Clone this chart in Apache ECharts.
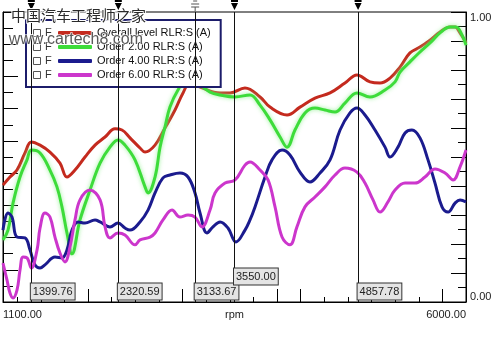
<!DOCTYPE html>
<html>
<head>
<meta charset="utf-8">
<script src="https://cdn.jsdelivr.net/npm/echarts@6/dist/echarts.min.js"></script>
<style>
html, body { margin: 0; padding: 0; background: #fff; }
#orderchart { width: 500px; height: 337px; }
</style>
</head>
<body>
<div id="orderchart"></div>
<script>
// rpm / amplitude pairs
var overallLevel = [
    [1100, 0.403], [1174, 0.431], [1248, 0.455], [1333, 0.514], [1400, 0.552], [1492, 0.541],
    [1597, 0.517], [1703, 0.479], [1777, 0.431], [1862, 0.455], [1968, 0.500], [2074, 0.541],
    [2180, 0.569], [2285, 0.597], [2359, 0.593], [2444, 0.566], [2550, 0.531], [2603, 0.517],
    [2709, 0.541], [2814, 0.600], [2920, 0.662], [3005, 0.721], [3079, 0.755], [3185, 0.741],
    [3397, 0.721], [3503, 0.721], [3661, 0.738], [3820, 0.707], [3926, 0.672], [4106, 0.645],
    [4243, 0.672], [4402, 0.703], [4561, 0.721], [4719, 0.755], [4846, 0.783], [4984, 0.759],
    [5090, 0.755], [5196, 0.772], [5302, 0.810], [5407, 0.859], [5513, 0.879], [5619, 0.903],
    [5725, 0.931], [5831, 0.948], [5884, 0.948], [5937, 0.928], [6000, 0.893]
];
var order2 = [
    [1100, 0.214], [1153, 0.248], [1206, 0.341], [1280, 0.431], [1354, 0.490], [1400, 0.524],
    [1492, 0.514], [1597, 0.455], [1671, 0.397], [1724, 0.328], [1777, 0.238], [1830, 0.166],
    [1915, 0.283], [2021, 0.386], [2127, 0.479], [2232, 0.534], [2317, 0.559], [2391, 0.541],
    [2497, 0.490], [2603, 0.397], [2635, 0.376], [2709, 0.431], [2762, 0.534], [2814, 0.603],
    [2867, 0.672], [2952, 0.731], [3058, 0.772], [3185, 0.748], [3291, 0.724], [3397, 0.714],
    [3556, 0.707], [3714, 0.714], [3820, 0.679], [3926, 0.628], [4032, 0.569], [4106, 0.534],
    [4190, 0.593], [4296, 0.652], [4402, 0.669], [4508, 0.662], [4614, 0.655], [4719, 0.686],
    [4846, 0.721], [4984, 0.707], [5143, 0.731], [5249, 0.759], [5302, 0.793], [5407, 0.828],
    [5513, 0.862], [5619, 0.893], [5725, 0.928], [5831, 0.948], [5894, 0.948], [5958, 0.921],
    [6000, 0.886]
];
var order4 = [
    [1100, 0.248], [1153, 0.307], [1195, 0.293], [1248, 0.224], [1333, 0.221], [1386, 0.179],
    [1439, 0.128], [1492, 0.117], [1544, 0.128], [1650, 0.155], [1724, 0.152], [1777, 0.179],
    [1830, 0.248], [1894, 0.276], [1968, 0.272], [2074, 0.283], [2127, 0.276], [2232, 0.259],
    [2317, 0.272], [2391, 0.255], [2444, 0.248], [2550, 0.276], [2635, 0.317], [2709, 0.376],
    [2793, 0.428], [2867, 0.438], [2973, 0.445], [3058, 0.431], [3132, 0.376], [3185, 0.307],
    [3259, 0.238], [3322, 0.259], [3397, 0.276], [3481, 0.255], [3566, 0.207], [3661, 0.248],
    [3714, 0.283], [3767, 0.328], [3873, 0.431], [3947, 0.490], [4053, 0.524], [4137, 0.507],
    [4243, 0.448], [4349, 0.414], [4455, 0.445], [4561, 0.490], [4667, 0.593], [4772, 0.652],
    [4846, 0.669], [4931, 0.645], [5037, 0.593], [5143, 0.534], [5196, 0.500], [5280, 0.534],
    [5355, 0.583], [5428, 0.593], [5513, 0.566], [5598, 0.490], [5672, 0.410], [5746, 0.328],
    [5810, 0.310], [5884, 0.341], [5937, 0.352], [6000, 0.345]
];
var order6 = [
    [1100, 0.134], [1142, 0.076], [1174, 0.031], [1206, 0.014], [1248, 0.041], [1280, 0.110],
    [1312, 0.155], [1354, 0.152], [1400, 0.117], [1460, 0.179], [1492, 0.255], [1544, 0.307],
    [1597, 0.293], [1650, 0.224], [1703, 0.169], [1756, 0.138], [1809, 0.190], [1862, 0.283],
    [1915, 0.352], [2021, 0.386], [2127, 0.352], [2180, 0.259], [2232, 0.221], [2317, 0.238],
    [2391, 0.231], [2497, 0.197], [2550, 0.214], [2656, 0.224], [2709, 0.238], [2793, 0.283],
    [2889, 0.317], [2973, 0.293], [3058, 0.300], [3132, 0.293], [3206, 0.259], [3291, 0.317],
    [3344, 0.376], [3450, 0.410], [3556, 0.421], [3661, 0.472], [3714, 0.483], [3820, 0.455],
    [3905, 0.421], [3979, 0.328], [4053, 0.224], [4137, 0.197], [4211, 0.259], [4296, 0.328],
    [4402, 0.362], [4508, 0.397], [4614, 0.438], [4719, 0.462], [4846, 0.448], [4931, 0.410],
    [5016, 0.352], [5090, 0.310], [5174, 0.345], [5249, 0.386], [5355, 0.410], [5460, 0.410],
    [5566, 0.431], [5672, 0.459], [5778, 0.445], [5863, 0.421], [5937, 0.466], [6000, 0.524]
];
var seriesNames = ['Overall level RLR:S (A)', 'Order 2.00 RLR:S (A)', 'Order 4.00 RLR:S (A)', 'Order 6.00 RLR:S (A)'];
var seriesColors = ['#c42a1e', '#3ddc3a', '#1b1b8e', '#cc36cc'];
var cursorRpm = [1399.76, 2320.59, 3133.67, 3550.00, 4857.78];
var xLongTicks = [2000, 3000, 4000, 4250, 5750];
var xShortTicks = [1250, 1500, 1750, 2250, 2500, 2750, 3250, 3500, 3750, 4500, 4750, 5000, 5250, 5500];

var FONT = 'Liberation Sans';
var pinPath = 'path://M0,0L7,0L7,2L0,2Z M0,3L7,3L3.5,10Z';
var barPath = 'path://M2,0L6,0L6,1L2,1Z M0,3L8,3L8,4L0,4Z M0,6L8,6L8,7L0,7Z M3.5,7L4.5,7L4.5,11L3.5,11Z';

var myChart = echarts.init(document.getElementById('orderchart'), null, {renderer: 'canvas'});

var cursorLabels = cursorRpm.map(function (v, i) {
    return {
        coord: [v, 0],
        value: v.toFixed(2),
        symbol: 'rect',
        symbolSize: 1,
        itemStyle: {color: 'rgba(0,0,0,0)'},
        label: {position: [0, i === 3 ? -33 : -18]}
    };
});
var cursorPins = cursorRpm.map(function (v, i) {
    return {
        coord: [v, 1],
        value: '',
        symbol: i === 2 ? barPath : pinPath,
        symbolSize: i === 2 ? [8, 11] : [7, 10],
        symbolOffset: [0, i === 2 ? -6 : -7],
        itemStyle: {color: i === 2 ? '#555' : '#000'},
        label: {show: false}
    };
});

var series = [overallLevel, order2, order4, order6].map(function (d, i) {
    return {
        name: seriesNames[i],
        type: 'line',
        data: d,
        smooth: 0.4,
        showSymbol: false,
        clip: true,
        xAxisIndex: 0,
        yAxisIndex: 0,
        itemStyle: {color: seriesColors[i]},
        lineStyle: {
            color: seriesColors[i],
            width: 3,
            shadowColor: i === 1 ? 'rgba(140,240,140,0.9)' : 'rgba(0,0,0,0)',
            shadowBlur: i === 1 ? 4 : 0
        },
        silent: true
    };
});
// cursors ride on the first series
series[0].markLine = {
    silent: true,
    symbol: ['none', 'none'],
    label: {show: false},
    lineStyle: {color: '#111', width: 1, type: 'solid'},
    data: cursorRpm.map(function (v) { return {xAxis: v}; })
};
series[0].markPoint = {
    silent: true,
    label: {
        show: true,
        formatter: '{c}',
        fontFamily: FONT,
        fontSize: 11,
        color: '#222',
        backgroundColor: '#e4e4e4',
        borderColor: '#333',
        borderWidth: 1,
        padding: [3, 2, 2, 2]
    },
    data: cursorLabels.concat(cursorPins)
};

var rows = [33, 47, 61, 75];
var graphics = [];
rows.forEach(function (y) {
    graphics.push({
        type: 'rect', z: 100, left: 33, top: y - 4,
        shape: {width: 7, height: 7},
        style: {fill: '#fff', stroke: '#555', lineWidth: 1}
    });
    graphics.push({
        type: 'text', z: 100, left: 45, top: y - 6,
        style: {text: 'F', font: '11px ' + FONT, fill: '#333'}
    });
});
// site watermark
graphics.push({
    type: 'text', z: 120, left: 10, top: 7,
    style: {text: '中国汽车工程师之家', font: '15px "Noto Sans CJK SC"', fill: '#2a2a2a', stroke: '#fff', lineWidth: 2}
});
graphics.push({
    type: 'text', z: 120, left: 8, top: 31,
    style: {text: 'www.cartech8.com', font: '16px ' + FONT, fill: '#5a5a5a', stroke: 'rgba(255,255,255,0.8)', lineWidth: 1.5}
});

var option = {
    backgroundColor: '#fff',
    animation: false,
    textStyle: {fontFamily: FONT},
    grid: {
        left: 3, right: 34, top: 12, bottom: 35,
        outerBoundsMode: 'none',
        containLabel: false,
        show: true, borderColor: '#000', borderWidth: 1, backgroundColor: '#fff'
    },
    legend: {
        data: seriesNames,
        orient: 'vertical',
        left: 26, top: 20,
        padding: [6, 10, 5, 32],
        itemGap: 0,
        itemWidth: 34,
        itemHeight: 4,
        icon: 'roundRect',
        selectedMode: false,
        backgroundColor: '#fff',
        borderColor: '#1c1c6a',
        borderWidth: 2,
        textStyle: {fontFamily: FONT, fontSize: 11, color: '#111', lineHeight: 14}
    },
    xAxis: [{
        type: 'value',
        min: 1100, max: 6000,
        name: 'rpm',
        nameLocation: 'middle',
        nameGap: 7,
        nameMoveOverlap: false,
        nameTextStyle: {fontFamily: FONT, fontSize: 11, color: '#222'},
        axisLine: {show: true, lineStyle: {color: '#000'}},
        splitLine: {show: false},
        axisTick: {show: true, inside: true, length: 13, customValues: xLongTicks, lineStyle: {color: '#000'}},
        axisLabel: {
            customValues: [1100, 6000],
            formatter: function (v) { return v.toFixed(2); },
            fontFamily: FONT, fontSize: 11, color: '#222', margin: 7,
            alignMinLabel: 'left', alignMaxLabel: 'right'
        }
    }, {
        type: 'value',
        min: 1100, max: 6000,
        position: 'bottom',
        axisLine: {show: false},
        splitLine: {show: false},
        axisLabel: {show: false},
        axisTick: {show: true, inside: true, length: 5, customValues: xShortTicks, lineStyle: {color: '#000'}}
    }],
    yAxis: [{
        type: 'value',
        position: 'right',
        min: 0, max: 1, interval: 0.1,
        name: 'Amplitude',
        nameLocation: 'middle',
        nameRotate: 90,
        nameGap: 12,
        nameTextStyle: {fontFamily: FONT, fontSize: 11, color: '#222'},
        axisLine: {show: true, lineStyle: {color: '#000'}},
        splitLine: {show: false},
        axisTick: {show: true, inside: true, length: 15, lineStyle: {color: '#000'}},
        minorTick: {show: true, splitNumber: 2, length: 8, lineStyle: {color: '#000'}},
        axisLabel: {
            formatter: function (v) { return (v === 0 || v === 1) ? v.toFixed(2) : ''; },
            fontFamily: FONT, fontSize: 11, color: '#222', margin: 4,
            verticalAlignMaxLabel: 'top', verticalAlignMinLabel: 'bottom'
        }
    }, {
        type: 'value',
        position: 'left',
        min: 0, max: 18, interval: 2,
        axisLine: {show: true, lineStyle: {color: '#000'}},
        splitLine: {show: false},
        axisLabel: {show: false},
        axisTick: {show: true, inside: true, length: 15, lineStyle: {color: '#000'}},
        minorTick: {show: true, splitNumber: 2, length: 10, lineStyle: {color: '#000'}}
    }],
    graphic: graphics,
    series: series
};
myChart.setOption(option);
</script>
</body>
</html>
